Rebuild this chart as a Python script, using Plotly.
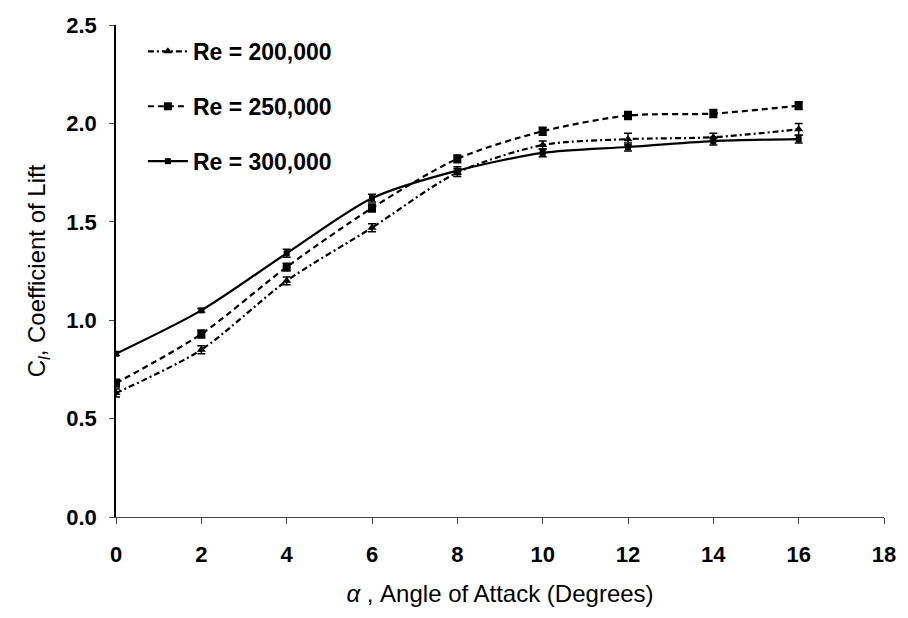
import plotly.graph_objects as go

alpha = [0, 2, 4, 6, 8, 10, 12, 14, 16]
cl_200k = [0.63, 0.85, 1.20, 1.47, 1.75, 1.89, 1.92, 1.93, 1.97]
cl_250k = [0.68, 0.93, 1.27, 1.57, 1.82, 1.96, 2.04, 2.05, 2.09]
cl_300k = [0.83, 1.05, 1.34, 1.62, 1.76, 1.85, 1.88, 1.91, 1.92]
err_200k = [0.02, 0.02, 0.02, 0.02, 0.02, 0.02, 0.03, 0.02, 0.03]
err_250k = [0.02, 0.02, 0.02, 0.02, 0.02, 0.02, 0.02, 0.02, 0.02]
err_300k = [0.01, 0.01, 0.02, 0.02, 0.02, 0.02, 0.02, 0.02, 0.02]
series_names = ["Re = 200,000", "Re = 250,000", "Re = 300,000"]
x_ticks = [0, 2, 4, 6, 8, 10, 12, 14, 16, 18]
y_ticks = [0.0, 0.5, 1.0, 1.5, 2.0, 2.5]

styles = [
    dict(dash="6px,3px,2px,3px", symbol="triangle-up", size=8),
    dict(dash="6px,4px", symbol="square", size=8),
    dict(dash="solid", symbol="square", size=6),
]
data = [(cl_200k, err_200k), (cl_250k, err_250k), (cl_300k, err_300k)]

fig = go.Figure()
for name, (ys, es), st in zip(series_names, data, styles):
    fig.add_trace(go.Scatter(
        x=alpha, y=ys, name=name, mode="lines+markers",
        legendgroup=name,
        line=dict(color="black", width=2.2, dash=st["dash"], shape="spline", smoothing=0.8),
        marker=dict(color="black", symbol=st["symbol"], size=st["size"]),
        error_y=dict(type="data", array=es, visible=True, color="black", thickness=1.5, width=4),
    ))

font_family = "Liberation Sans, Arial, sans-serif"
fig.update_layout(
    width=908, height=618,
    margin=dict(l=116, r=18, t=25, b=101),
    paper_bgcolor="white", plot_bgcolor="white",
    font=dict(family=font_family, color="black", size=22),
    showlegend=True,
    legend=dict(
        x=0.035, y=0.99, xanchor="left", yanchor="top",
        font=dict(size=23, weight="bold", family=font_family),
        bgcolor="rgba(0,0,0,0)", tracegroupgap=22, itemwidth=40,
    ),
    xaxis=dict(
        range=[0, 18], tickvals=x_ticks, ticktext=[str(v) for v in x_ticks],
        showgrid=False, zeroline=False, showline=True, linecolor="#444", linewidth=1,
        ticks="outside", ticklen=6, tickcolor="#444", ticklabelstandoff=12,
        tickfont=dict(size=22, weight="bold"),
        title=dict(text="<i>α</i> , Angle of Attack (Degrees)", font=dict(size=24), standoff=18),
    ),
    yaxis=dict(
        range=[0, 2.5], tickvals=y_ticks, ticktext=[f"{v:.1f}" for v in y_ticks],
        showgrid=False, zeroline=False, showline=True, linecolor="black", linewidth=1.5,
        ticks="outside", ticklen=5, tickcolor="#444", ticklabelstandoff=8,
        tickfont=dict(size=22, weight="bold"),
        title=dict(text="C<sub><i>l</i></sub>, Coefficient of Lift", font=dict(size=24), standoff=14),
    ),
)

fig.write_html("out.html")
